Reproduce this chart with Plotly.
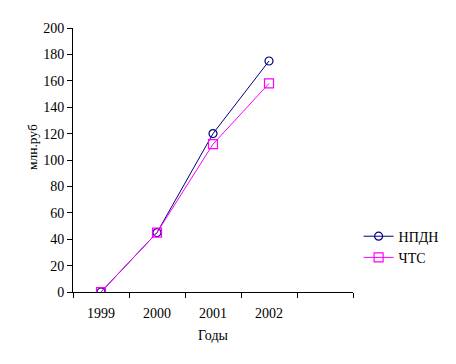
import plotly.graph_objects as go

years = ["1999", "2000", "2001", "2002"]
npdn = [0, 45, 120, 175]
chts = [0, 45, 112, 158]
y_ticks = [0, 20, 40, 60, 80, 100, 120, 140, 160, 180, 200]

xpos = list(range(len(years)))
FAMILY = "Liberation Serif, Times New Roman, serif"
font = dict(family=FAMILY, size=14, color="black")

fig = go.Figure()
fig.add_trace(go.Scatter(
    x=xpos, y=npdn, name="НПДН", mode="lines+markers",
    line=dict(color="#000080", width=1),
    marker=dict(symbol="circle-open", size=8, color="#000080", line=dict(width=1.2)),
))
fig.add_trace(go.Scatter(
    x=xpos, y=chts, name="ЧТС", mode="lines+markers",
    line=dict(color="#FF00FF", width=1),
    marker=dict(symbol="square-open", size=9, color="#FF00FF", line=dict(width=1.2)),
))

fig.add_annotation(
    text="млн.руб", xref="paper", yref="paper", x=0, y=0.547,
    xanchor="center", yanchor="middle", xshift=-40.5, textangle=-90,
    showarrow=False, font=dict(family=FAMILY, size=13.5, color="black"),
)

fig.update_layout(
    width=448, height=356,
    margin=dict(l=65, r=99, t=20, b=72),
    paper_bgcolor="white", plot_bgcolor="white",
    font=font,
    showlegend=True,
    legend=dict(x=1.02, y=0.17, xanchor="left", yanchor="middle",
                font=dict(family=FAMILY, size=14, color="black"), tracegroupgap=4, itemwidth=30,
                bgcolor="rgba(0,0,0,0)"),
    xaxis=dict(
        range=[-0.5, 4.5], tickmode="array", tickvals=xpos, ticktext=years,
        ticks="outside", ticklen=0, ticklabelstandoff=8,
        showline=True, linecolor="black", linewidth=1, showgrid=False, zeroline=False,
        minor=dict(ticks="outside", ticklen=5, tickcolor="black", tick0=0.5, dtick=1, showgrid=False),
        title=dict(text="Годы", standoff=10, font=dict(family=FAMILY, size=14, color="black")),
    ),
    yaxis=dict(
        range=[0, 200], tickmode="array", tickvals=y_ticks,
        ticks="outside", ticklen=5, tickcolor="black",
        showline=True, linecolor="black", linewidth=1, showgrid=False, zeroline=False,
    ),
)

fig.write_html("out.html")
